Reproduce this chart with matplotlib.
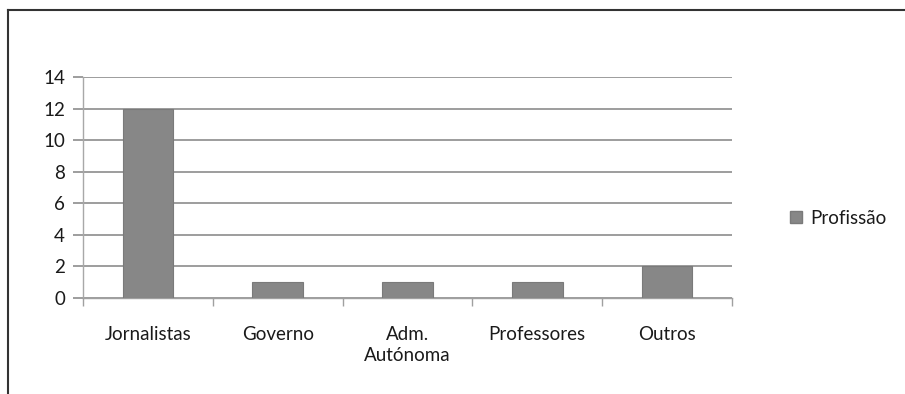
import matplotlib
matplotlib.use("Agg")
import matplotlib.pyplot as plt
from matplotlib.lines import Line2D
from matplotlib.patches import Patch
import numpy as np

categories = ["Jornalistas", "Governo", "Adm.\nAutónoma", "Professores", "Outros"]
values = [12, 1, 1, 1, 2]
series_name = "Profissão"
y_ticks = [0, 2, 4, 6, 8, 10, 12, 14]

plt.rcParams["font.family"] = ["Lato", "DejaVu Sans"]
FS = 13.5
TXT = "#1a1a1a"

W, H = 905, 394
fig = plt.figure(figsize=(W / 100, H / 100), dpi=100)
ax = fig.add_axes([83 / W, 1 - 298 / H, (732 - 83) / W, (298 - 77) / H])

bar_color = "#878787"
x = np.arange(len(categories))
ax.bar(x, values, width=0.39, color=bar_color, edgecolor="#7a7a7a",
       linewidth=0.8, zorder=3)

ax.set_xlim(-0.5, len(categories) - 0.5)
ax.set_ylim(0, 14)
ax.set_yticks(y_ticks)
ax.set_yticklabels([str(v) for v in y_ticks], fontsize=FS, color=TXT)
ax.yaxis.grid(True, color="#8c8c8c", linewidth=1.2, zorder=0)
ax.set_axisbelow(True)

# category labels centred on bars, tick marks on category boundaries
ax.set_xticks(x)
ax.set_xticklabels(categories, fontsize=FS, color=TXT, linespacing=1.3)
ax.tick_params(axis="x", length=0, pad=20)
ax.set_xticks(np.arange(len(categories) + 1) - 0.5, minor=True)
ax.tick_params(axis="x", which="minor", length=6, color="#a0a0a0", width=1)
ax.tick_params(axis="y", length=7, color="#8c8c8c", width=1.2, pad=6)

for side in ("top", "right"):
    ax.spines[side].set_visible(False)
ax.spines["left"].set_color("#a8a8a8")
ax.spines["bottom"].set_color("#a0a0a0")
ax.spines["left"].set_linewidth(1)
ax.spines["bottom"].set_linewidth(1)

leg = fig.legend(handles=[Patch(facecolor=bar_color, edgecolor="#7a7a7a",
                                label=series_name)],
                 loc="center left", bbox_to_anchor=(773 / W, 1 - 218 / H),
                 frameon=False, fontsize=FS, handlelength=0.65,
                 handleheight=0.65, handletextpad=0.45)
for t in leg.get_texts():
    t.set_color(TXT)

# outer frame (top and left edges)
fig.add_artist(Line2D([8 / W, 1], [1 - 10 / H, 1 - 10 / H],
                      transform=fig.transFigure, color="#333333", linewidth=1.5))
fig.add_artist(Line2D([8 / W, 8 / W], [0, 1 - 10 / H],
                      transform=fig.transFigure, color="#333333", linewidth=1.5))

fig.savefig("out.png", dpi=100, facecolor="white")
